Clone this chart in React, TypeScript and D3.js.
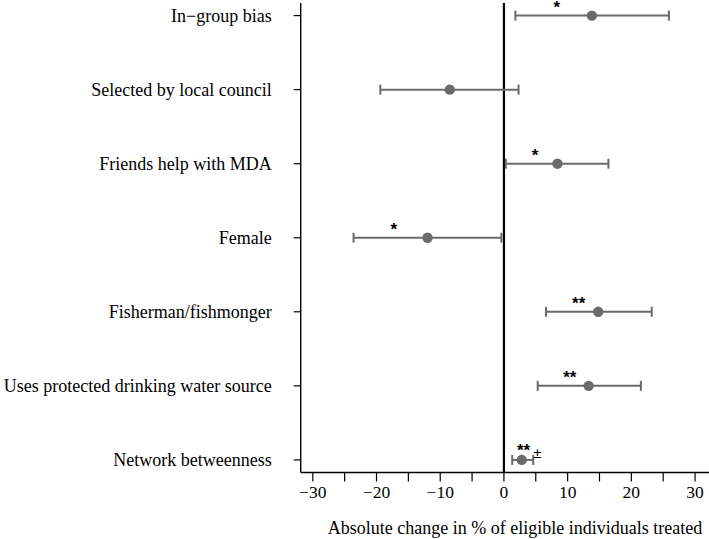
import React from "react";
import * as d3 from "d3";

const categories = [
  "In\u2212group bias",
  "Selected by local council",
  "Friends help with MDA",
  "Female",
  "Fisherman/fishmonger",
  "Uses protected drinking water source",
  "Network betweenness",
];
const estimates = [13.8, -8.5, 8.4, -12.0, 14.8, 13.3, 2.8];
const lower = [1.8, -19.4, 0.3, -23.6, 6.6, 5.3, 1.3];
const upper = [25.9, 2.3, 16.4, -0.4, 23.2, 21.5, 4.6];
const stars = ["*", "", "*", "*", "**", "**", "**"];
const extraMark = ["", "", "", "", "", "", "\u00b1"];
const xTicks = [-30, -20, -10, 0, 10, 20, 30];
const xMinorTicks = [-25, -15, -5, 5, 15, 25];
const xTitle = "Absolute change in % of eligible individuals treated";

const W = 709;
const H = 539;
const serif = "'Liberation Serif', 'Times New Roman', serif";
const sans = "'Liberation Sans', Arial, sans-serif";
const grey = "#6a6a6a";

export default function App() {
  const x = d3.scaleLinear().domain([-31.9, 32.3]).range([300.7, 709.7]);
  const y = d3.scaleLinear().domain([-0.17, 6.17]).range([3, 472.5]);
  const axisY = y(6.17);
  const axisX = x(-31.9);

  return (
    <svg
      width={W}
      height={H}
      style={{ position: "absolute", left: 0, top: 0, background: "#fff" }}
    >
      {/* y axis */}
      <line x1={axisX} x2={axisX} y1={y(-0.17)} y2={axisY} stroke="#000" strokeWidth={1.4} />
      {categories.map((c, i) => (
        <g key={c}>
          <line x1={axisX - 7} x2={axisX} y1={y(i)} y2={y(i)} stroke="#000" strokeWidth={1.2} />
          <text
            x={axisX - 29}
            y={y(i) + 6}
            textAnchor="end"
            fontFamily={serif}
            fontSize={18}
            fill="#000"
          >
            {c}
          </text>
        </g>
      ))}
      {/* x axis */}
      <line x1={axisX} x2={W} y1={axisY} y2={axisY} stroke="#000" strokeWidth={1.4} />
      {xTicks.concat(xMinorTicks).map((t) => (
        <line key={t} x1={x(t)} x2={x(t)} y1={axisY} y2={axisY + 9} stroke="#000" strokeWidth={1.2} />
      ))}
      {xTicks.map((t) => (
        <text
          key={"l" + t}
          x={x(t)}
          y={axisY + 25}
          textAnchor="middle"
          fontFamily={serif}
          fontSize={17.5}
          fill="#000"
        >
          {t < 0 ? "\u2212" + Math.abs(t) : String(t)}
        </text>
      ))}
      <text
        x={515}
        y={axisY + 61}
        textAnchor="middle"
        fontFamily={serif}
        fontSize={18}
        fill="#000"
      >
        {xTitle}
      </text>
      {/* zero line */}
      <line x1={x(0)} x2={x(0)} y1={y(-0.17)} y2={axisY} stroke="#000" strokeWidth={2.2} />
      {/* estimates */}
      {categories.map((c, i) => (
        <g key={"e" + i}>
          <line x1={x(lower[i])} x2={x(upper[i])} y1={y(i)} y2={y(i)} stroke={grey} strokeWidth={2} />
          <line x1={x(lower[i])} x2={x(lower[i])} y1={y(i) - 5} y2={y(i) + 5} stroke={grey} strokeWidth={2} />
          <line x1={x(upper[i])} x2={x(upper[i])} y1={y(i) - 5} y2={y(i) + 5} stroke={grey} strokeWidth={2} />
          <circle cx={x(estimates[i])} cy={y(i)} r={5.2} fill={grey} />
          {stars[i] && (
            <text
              x={x((lower[i] + estimates[i]) / 2)}
              y={y(i) - (extraMark[i] ? 4 : 3)}
              fontFamily={sans}
              fontWeight="bold"
              fontSize={17}
              fill="#000"
            >
              {stars[i]}
              {extraMark[i] && (
                <tspan fontWeight="normal" fontSize={15} dx={3} dy={2}>
                  {extraMark[i]}
                </tspan>
              )}
            </text>
          )}
        </g>
      ))}
    </svg>
  );
}
